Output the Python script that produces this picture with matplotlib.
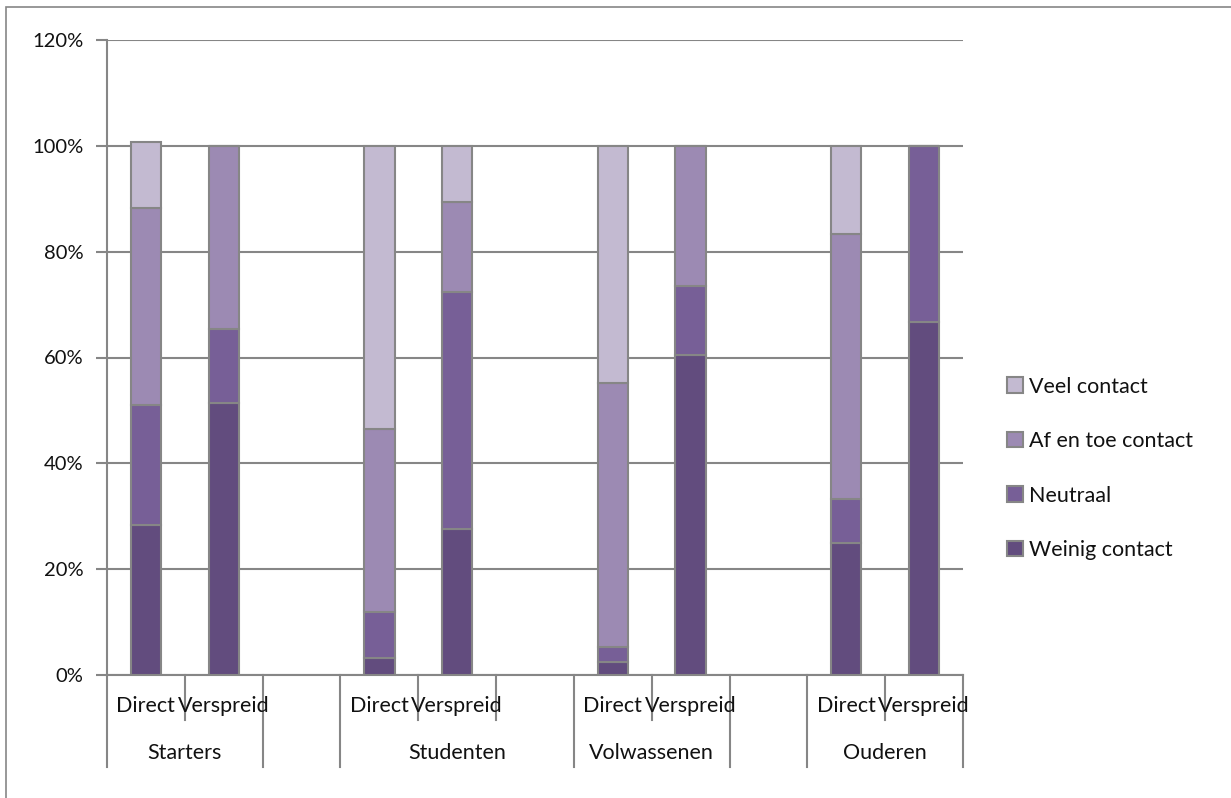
import matplotlib
matplotlib.use("Agg")
import matplotlib.pyplot as plt
from matplotlib.patches import Rectangle
import matplotlib.transforms as mtransforms

plt.rcParams['font.family'] = ['Lato', 'DejaVu Sans']

groups = ["Starters", "Studenten", "Volwassenen", "Ouderen"]
subs = ["Direct", "Verspreid"]
series_names = ["Weinig contact", "Neutraal", "Af en toe contact", "Veel contact"]
# order per bar: Starters D, Starters V, Studenten D, Studenten V, Volw D, Volw V, Ouderen D, Ouderen V
weinig = [28.3, 51.4, 3.2, 27.5, 2.4, 60.5, 25.0, 66.7]
neutraal = [22.8, 14.0, 8.8, 44.8, 2.8, 13.0, 8.3, 33.3]
af_en_toe = [37.1, 34.6, 34.4, 17.1, 50.0, 26.5, 50.0, 0.0]
veel = [12.5, 0.0, 53.6, 10.6, 44.8, 0.0, 16.7, 0.0]
yticks = [0, 20, 40, 60, 80, 100, 120]

colors = ["#624C7E", "#775F97", "#9C8AB3", "#C3BAD1"]
grid_c = "#868686"
txt_c = "#111111"
FS = 15.5

W, H = 1231, 798
fig = plt.figure(figsize=(W / 100, H / 100), dpi=100)
fig.patch.set_facecolor("white")

# outer chart frame
fig.patches.append(Rectangle((6 / W, -0.1), 1.2, (798 - 7) / H + 0.1, transform=fig.transFigure,
                             fill=False, edgecolor=grid_c, linewidth=1.2))

ax = fig.add_axes([107 / W, (H - 675) / H, 856 / W, 635 / H])

# slot layout: each group 2 bars, blank slot between groups; Studenten also spans its blank slot
slot_of_bar = [0, 1, 3, 4, 6, 7, 9, 10]
nslots = 11
ax.set_xlim(-0.5, nslots - 0.5)
ax.set_ylim(0, 120)

series = [weinig, neutraal, af_en_toe, veel]
bottoms = [0.0] * len(weinig)
handles = []
for name, vals, c in zip(series_names, series, colors):
    b = ax.bar(slot_of_bar, vals, bottom=bottoms, width=0.39, color=c,
               edgecolor=grid_c, linewidth=1.5, zorder=3, label=name)
    handles.append(b)
    bottoms = [bo + v for bo, v in zip(bottoms, vals)]

ax.set_yticks(yticks)
ax.set_yticklabels([f"{t}%" for t in yticks], fontsize=14.5, color=txt_c)
ax.yaxis.grid(True, color=grid_c, linewidth=1.5, zorder=0)
ax.set_axisbelow(True)
for s in ["top", "right"]:
    ax.spines[s].set_visible(False)
for s in ["left", "bottom"]:
    ax.spines[s].set_color(grid_c)
    ax.spines[s].set_linewidth(1.5)
ax.tick_params(axis="y", length=8, width=1.5, color=grid_c, pad=9)
ax.set_xticks([])

trans = mtransforms.blended_transform_factory(ax.transData, ax.transAxes)
short_y = -45 / 635
long_y = -92 / 635
long_bounds = [0, 2, 3, 6, 8, 9, 11]
short_bounds = [1, 4, 5, 7, 10]
for xb in long_bounds:
    ax.plot([xb - 0.5, xb - 0.5], [0, long_y], transform=trans, color=grid_c,
            linewidth=1.5, clip_on=False)
for xb in short_bounds:
    ax.plot([xb - 0.5, xb - 0.5], [0, short_y], transform=trans, color=grid_c,
            linewidth=1.5, clip_on=False)

for i, s in enumerate(slot_of_bar):
    ax.text(s, -31 / 635, subs[i % 2], transform=trans, ha="center", va="center",
            fontsize=FS, color=txt_c)

group_centers = [0.5, 4.0, 6.5, 9.5]
for g, cx in zip(groups, group_centers):
    ax.text(cx, -78 / 635, g, transform=trans, ha="center", va="center",
            fontsize=FS, color=txt_c)

leg = fig.legend(handles[::-1], series_names[::-1], loc="upper left",
                 bbox_to_anchor=(998 / W, (H - 368) / H), frameon=False,
                 fontsize=FS, handlelength=0.75, handleheight=0.75,
                 labelspacing=1.6, handletextpad=0.3, borderaxespad=0)
for t in leg.get_texts():
    t.set_color(txt_c)

fig.savefig("out.png", dpi=100, facecolor="white")
